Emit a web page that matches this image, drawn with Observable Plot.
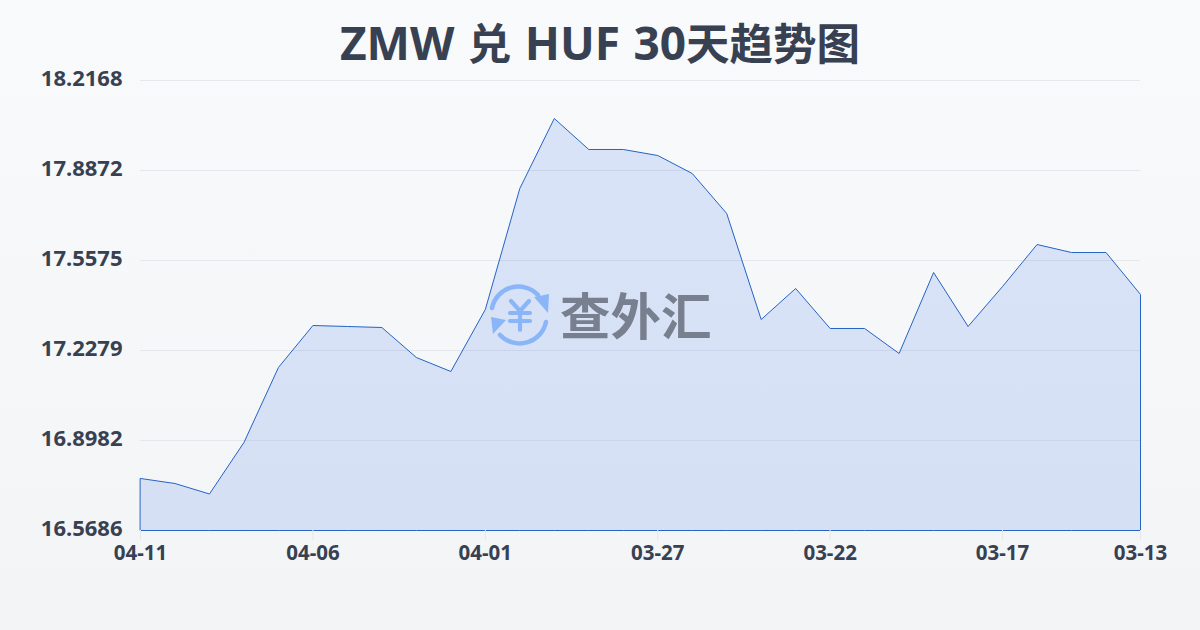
<!DOCTYPE html>
<html lang="zh">
<head>
<meta charset="utf-8">
<script src="https://cdn.jsdelivr.net/npm/d3@7"></script>
<script src="https://cdn.jsdelivr.net/npm/@observablehq/plot@0.6"></script>
<style>
html,body{margin:0;padding:0;width:1200px;height:630px;overflow:hidden;background:linear-gradient(180deg,#f8fafc 0%,#f3f4f6 100%);}
body{position:relative;font-family:"Noto Sans","Noto Sans CJK SC",sans-serif;}
h1{margin:0;height:60px;width:1200px;text-align:center;font-size:46px;line-height:85px;font-weight:700;color:#374151;font-family:"Noto Sans","Noto Sans CJK SC",sans-serif;white-space:nowrap;word-spacing:1.5px;}
h1 .cjk{font-size:43.5px;}
#chart{position:absolute;left:0;top:60px;}
#chart svg{background:transparent;display:block;}
#wm{position:absolute;left:488px;top:280px;width:240px;height:72px;overflow:visible;}
</style>
</head>
<body>
<h1>ZMW <span class="cjk">兑</span> HUF 30<span class="cjk">天趋势图</span></h1>
<div id="chart"></div>
<svg id="wm" viewBox="0 -4 240 72">
  <g fill="none" stroke="#8ab6f9" stroke-width="4.5" stroke-linecap="round">
    <path d="M4 24 A27 27 0 0 1 50 11"/>
    <path d="M58 38 A27 27 0 0 1 12 51"/>
  </g>
  <path d="M46 13 L61 10 L60 29 Z" fill="#8ab6f9"/>
  <path d="M3 33 L18 36 L5 50 Z" fill="#8ab6f9"/>
  <g fill="none" stroke="#8ab6f9" stroke-width="4.2" stroke-linecap="round">
    <path d="M23 17 L32 27 L41 17 M32 27 V46 M22 29 H42 M22 37 H42"/>
  </g>
  <text x="72" y="51" font-family="'Noto Sans CJK SC'" font-weight="700" font-size="50.5" fill="#78808f">查外汇</text>
</svg>
<script>
const dates = ["04-11","04-10","04-09","04-08","04-07","04-06","04-05","04-04","04-03","04-02","04-01","03-31","03-30","03-29","03-28","03-27","03-26","03-25","03-24","03-23","03-22","03-21","03-20","03-19","03-18","03-17","03-16","03-15","03-14","03-13"];
const rates = [16.7591,16.7407,16.7023,16.8909,17.1656,17.3194,17.3158,17.3121,17.2022,17.1510,17.3780,17.8212,18.0776,17.9641,17.9641,17.9421,17.8762,17.7297,17.3414,17.4550,17.3085,17.3085,17.2169,17.5136,17.3158,17.4623,17.6161,17.5868,17.5868,17.4330];
const yTicks = [16.5686,16.8982,17.2279,17.5575,17.8872,18.2168];
const xTicks = ["04-11","04-06","04-01","03-27","03-22","03-17","03-13"];
const table = dates.map((d,i)=>({date:d,rate:rates[i]}));
const plot = Plot.plot({
  width:1200,height:570,
  marginLeft:140,marginRight:60,marginTop:20,marginBottom:100,
  style:{background:"transparent",fontFamily:"'Noto Sans','Noto Sans CJK SC',sans-serif"},
  x:{type:"point",domain:dates,padding:0,round:false,label:null},
  y:{domain:[16.5686,18.2168],label:null},
  marks:[
    Plot.ruleY(yTicks,{stroke:"#e5e7eb",strokeWidth:1}),
    Plot.areaY(table,{x:"date",y1:16.5686,y2:"rate",fill:"#2563eb",fillOpacity:0.14,stroke:"#2563c4",strokeWidth:1,dx:0.5,dy:0.5}),
    Plot.axisY(yTicks,{tickFormat:d=>d.toFixed(4),tickSize:0,tickPadding:18,fontSize:22,fontWeight:700,fill:"#374151",dy:-2,label:null}),
    Plot.axisX(xTicks,{tickSize:10,stroke:"#e5e7eb",tickPadding:5,fontSize:20.5,fontWeight:700,fill:"#374151",label:null})
  ]
});
document.getElementById("chart").appendChild(plot);
</script>
</body>
</html>
